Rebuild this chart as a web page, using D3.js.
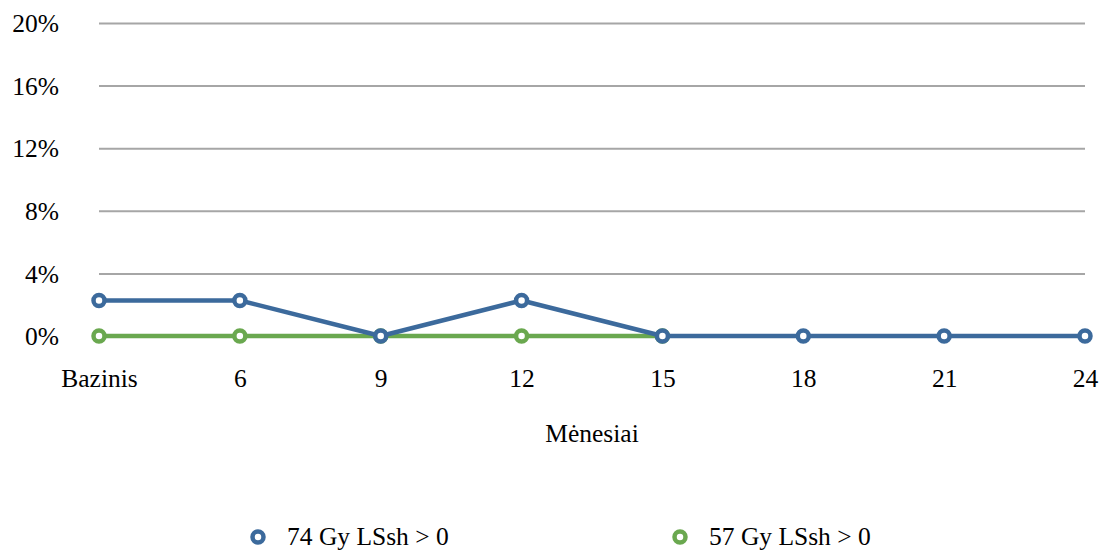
<!DOCTYPE html>
<html>
<head>
<meta charset="utf-8">
<script src="https://cdn.jsdelivr.net/npm/d3@7"></script>
<style>
  html, body { margin: 0; padding: 0; background: #fff; }
  svg text { font-family: "Liberation Serif", "Times New Roman", serif; fill: #000; }
</style>
</head>
<body>
<svg id="chart" width="1102" height="550"></svg>
<script>
// Share of patients with LSsh > 0 by month, per dose group
const categories = ["Bazinis", "6", "9", "12", "15", "18", "21", "24"];
const series74 = [2.27, 2.27, 0, 2.27, 0, 0, 0, 0];
const series57 = [0, 0, 0, 0, 0, null, null, null];
const yTicks = [0, 4, 8, 12, 16, 20];
const seriesNames = ["74 Gy LSsh > 0", "57 Gy LSsh > 0"];
const xTitle = "Mėnesiai";

const colors = ["#3C6A9C", "#6AA84F"];
const fontSize = 25.5;

const svg = d3.select("#chart");

const x = d3.scalePoint().domain(categories).range([99, 1085]).padding(0);
const y = d3.scaleLinear().domain([0, 20]).range([336, 23]);

// Horizontal gridlines with percent labels
const yAxis = d3.axisLeft(y)
  .tickValues(yTicks)
  .tickSize(-(1085 - 99))
  .tickPadding(40)
  .tickFormat(d => d + "%");

const gy = svg.append("g").attr("transform", "translate(99,0)").call(yAxis);
gy.select(".domain").remove();
gy.selectAll(".tick line").attr("stroke", "#A6A6A6").attr("stroke-width", 2);
gy.selectAll(".tick text")
  .attr("font-size", fontSize)
  .attr("dy", "0.34em")
  .style("font-family", "'Liberation Serif', serif");

// Category labels along the bottom
const xAxis = d3.axisBottom(x).tickSize(0).tickPadding(0);
const gx = svg.append("g").attr("transform", "translate(0,387)").call(xAxis);
gx.select(".domain").remove();
gx.selectAll(".tick text")
  .attr("font-size", fontSize)
  .attr("dy", 0)
  .style("font-family", "'Liberation Serif', serif");

svg.append("text")
  .attr("x", 592)
  .attr("y", 442)
  .attr("text-anchor", "middle")
  .attr("font-size", fontSize)
  .text(xTitle);

const line = d3.line()
  .defined(d => d.v !== null)
  .x(d => x(d.c))
  .y(d => y(d.v));

function drawSeries(values, color) {
  const pts = categories.map((c, i) => ({ c, v: values[i] }));
  svg.append("path")
    .datum(pts)
    .attr("fill", "none")
    .attr("stroke", color)
    .attr("stroke-width", 4.5)
    .attr("stroke-linejoin", "round")
    .attr("d", line);
  svg.append("g")
    .selectAll("circle")
    .data(pts.filter(d => d.v !== null))
    .join("circle")
    .attr("cx", d => x(d.c))
    .attr("cy", d => y(d.v))
    .attr("r", 5.5)
    .attr("fill", "#fff")
    .attr("stroke", color)
    .attr("stroke-width", 4.5);
}

drawSeries(series57, colors[1]);
drawSeries(series74, colors[0]);

// Legend
const legendX = [258, 680];
const legend = svg.append("g");
seriesNames.forEach((name, i) => {
  legend.append("circle")
    .attr("cx", legendX[i])
    .attr("cy", 537)
    .attr("r", 5.5)
    .attr("fill", "#fff")
    .attr("stroke", colors[i])
    .attr("stroke-width", 4.5);
  legend.append("text")
    .attr("x", legendX[i] + 29)
    .attr("y", 545)
    .attr("font-size", fontSize)
    .text(name);
});
</script>
</body>
</html>
